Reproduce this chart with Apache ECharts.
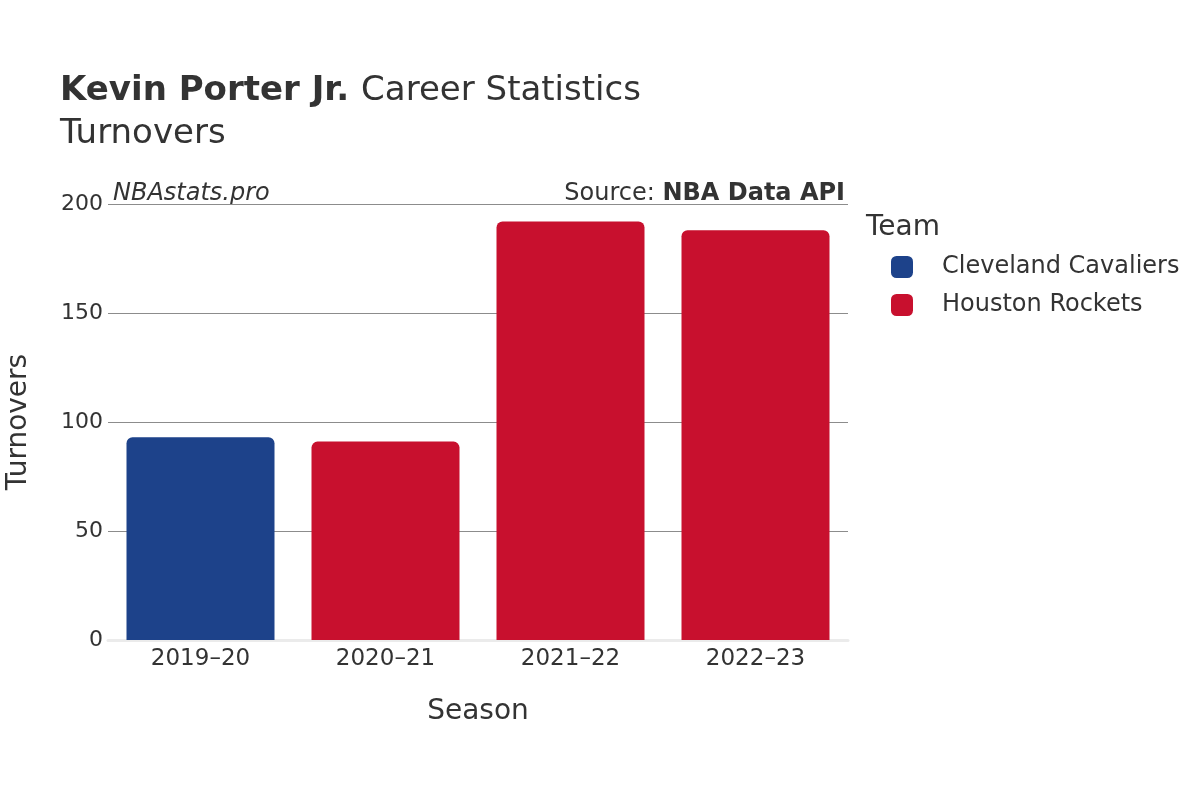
<!DOCTYPE html>
<html>
<head>
<meta charset="utf-8">
<script src="https://cdn.jsdelivr.net/npm/echarts@6/dist/echarts.min.js"></script>
<style>html,body{margin:0;padding:0;background:#fff}#c{width:1200px;height:800px}</style>
</head>
<body>
<div id="c"></div>
<script>
const seasons = ['2019–20', '2020–21', '2021–22', '2022–23'];
const cavaliers = [93, null, null, null];
const rockets = [null, 91, 192, 188];
const yTicks = [0, 50, 100, 150, 200];

const FONT = 'DejaVu Sans';
const TXT = '#333';
const chart = echarts.init(document.getElementById('c'), null, {renderer: 'canvas'});
chart.setOption({
  backgroundColor: '#fff',
  animation: false,
  textStyle: {fontFamily: FONT, color: TXT},
  grid: {left: 108, right: 352, top: 204, bottom: 160, containLabel: false, outerBoundsMode: 'none'},
  graphic: [
    {type: 'text', left: 60, top: 74, style: {rich: {b: {fontFamily: FONT, fontSize: 34, fontWeight: 'bold', fill: TXT, padding: [0, 12, 0, 0]}, n: {fontFamily: FONT, fontSize: 34, fill: TXT}}, text: '{b|Kevin Porter Jr.}{n|Career Statistics}'}},
    {type: 'text', left: 60, top: 117, style: {text: 'Turnovers', fontFamily: FONT, fontSize: 34, fill: TXT}},
    {type: 'text', left: 113, top: 182, style: {text: 'NBAstats.pro', fontFamily: FONT, fontSize: 24, fontStyle: 'italic', fill: TXT}},
    {type: 'text', right: 355, top: 182, style: {rich: {n: {fontFamily: FONT, fontSize: 24, fill: TXT}, b: {fontFamily: FONT, fontSize: 24, fontWeight: 'bold', fill: TXT}}, text: '{n|Source: }{b|NBA Data API}'}},
    {type: 'text', left: 866, top: 214, style: {text: 'Team', fontFamily: FONT, fontSize: 28, fill: TXT}}
  ],
  legend: {
    orient: 'vertical', left: 886, top: 250,
    itemWidth: 22, itemHeight: 22, itemGap: 14,
    icon: 'roundRect',
    textStyle: {fontFamily: FONT, fontSize: 24, color: TXT, padding: [0, 0, 0, 24]},
    data: ['Cleveland Cavaliers', 'Houston Rockets']
  },
  xAxis: {
    type: 'category', data: seasons,
    name: 'Season', nameLocation: 'middle', nameGap: 58,
    nameTextStyle: {fontFamily: FONT, fontSize: 28, color: TXT},
    axisLine: {show: true, lineStyle: {color: '#ebebeb', width: 3}},
    axisTick: {show: false},
    axisLabel: {fontFamily: FONT, fontSize: 23, color: TXT, margin: 8}
  },
  yAxis: {
    type: 'value', min: yTicks[0], max: yTicks[yTicks.length - 1], interval: 50,
    name: 'Turnovers', nameLocation: 'middle', nameGap: 75,
    nameTextStyle: {fontFamily: FONT, fontSize: 28, color: TXT},
    axisLine: {show: false}, axisTick: {show: false},
    axisLabel: {fontFamily: FONT, fontSize: 22, color: TXT, margin: 5, padding: [3, 0, 0, 0]},
    splitLine: {lineStyle: {color: '#8c8c8c', width: 1}}
  },
  series: [
    {name: 'Cleveland Cavaliers', type: 'bar', data: cavaliers, barWidth: '80%', barGap: '-100%',
     itemStyle: {color: '#1d428a', borderRadius: [6, 6, 0, 0]}},
    {name: 'Houston Rockets', type: 'bar', data: rockets, barWidth: '80%', barGap: '-100%',
     itemStyle: {color: '#c8102e', borderRadius: [6, 6, 0, 0]}}
  ]
});
</script>
</body>
</html>
